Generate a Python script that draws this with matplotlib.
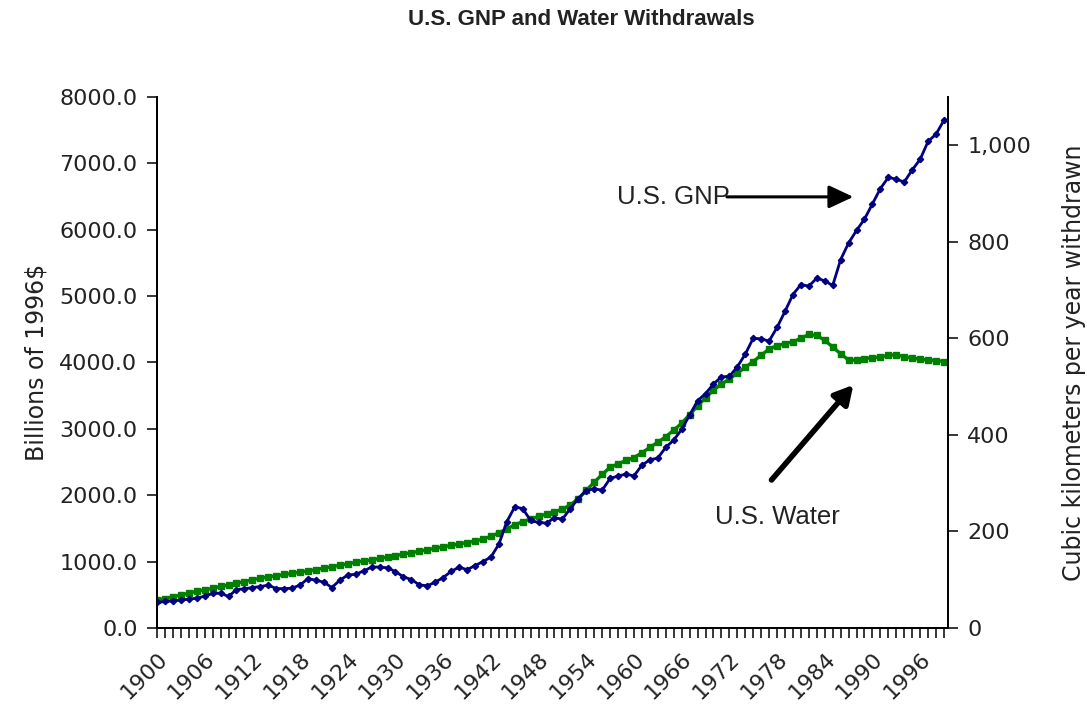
import numpy as np
import matplotlib
matplotlib.use("Agg")
import matplotlib.pyplot as plt
from matplotlib.ticker import FuncFormatter, MultipleLocator

# -----------------------------
# Data
# -----------------------------
years = list(range(1900, 2000))

# U.S. GNP, billions of 1996$
gnp = [385, 400, 410, 420, 435, 448, 480, 520, 525, 475,
       580, 590, 610, 625, 645, 595, 593, 600, 647, 745,
       720, 690, 610, 720, 798, 809, 860, 917, 920, 906,
       850, 771, 730, 650, 636, 690, 760, 852, 917, 879,
       940, 1000, 1068, 1260, 1600, 1823, 1800, 1620, 1590, 1580,
       1660, 1640, 1800, 1950, 2070, 2100, 2075, 2253, 2290, 2318,
       2291, 2453, 2533, 2560, 2722, 2830, 2991, 3207, 3423, 3531,
       3676, 3784, 3790, 3935, 4124, 4366, 4355, 4323, 4528, 4770,
       5024, 5174, 5150, 5271, 5230, 5160, 5550, 5800, 5990, 6160,
       6390, 6620, 6790, 6760, 6720, 6900, 7061, 7330, 7440, 7650]

# U.S. water withdrawals, cubic km per year
water = [58, 61, 65, 68, 72, 76, 79, 82, 86, 89,
         93, 96, 100, 103, 106, 108, 111, 113, 116, 118,
         121, 124, 127, 130, 133, 136, 139, 141, 144, 147,
         150, 153, 156, 159, 162, 165, 168, 171, 174, 177,
         180, 184, 190, 197, 205, 214, 220, 226, 231, 236,
         241, 246, 255, 268, 285, 302, 318, 333, 340, 347,
         353, 363, 374, 385, 396, 410, 424, 442, 460, 477,
         493, 505, 516, 528, 540, 552, 565, 578, 585, 589,
         593, 600, 608, 606, 596, 582, 568, 555, 555, 558,
         560, 561, 565, 566, 562, 559, 557, 555, 554, 552]

year_labels = list(range(1900, 1997, 6))
gnp_ticks = list(range(0, 8001, 1000))
water_ticks = list(range(0, 1001, 200))

# -----------------------------
# Plot
# -----------------------------
plt.rcParams['font.family'] = ['DejaVu Sans']
text_color = "#222222"
arial = ["Liberation Sans", "DejaVu Sans"]

fig = plt.figure(figsize=(10.87, 7.13), dpi=100)
ax = fig.add_axes([0.1444, 0.1192, 0.7277, 0.7448])
ax2 = ax.twinx()

ax.plot(years, gnp, color="#000080", linewidth=2, marker="D", markersize=3.2,
        zorder=3)
ax2.plot(years, water, color="#008000", linewidth=2.4, marker="s", markersize=5,
         zorder=2)
ax.set_zorder(ax2.get_zorder() + 1)
ax.patch.set_visible(False)

ax.set_xlim(1900, 1999.5)
ax.set_ylim(0, 8000)
ax2.set_ylim(0, 1100)

ax.set_yticks(gnp_ticks)
ax.yaxis.set_major_formatter(FuncFormatter(lambda v, p: f"{v:.1f}"))
ax2.set_yticks(water_ticks)
ax2.yaxis.set_major_formatter(FuncFormatter(lambda v, p: f"{int(v):,}"))

ax.set_xticks(year_labels)
ax.set_xticklabels([str(y) for y in year_labels], rotation=45, ha="right",
                   rotation_mode="anchor")
ax.xaxis.set_minor_locator(MultipleLocator(1))

for a in (ax, ax2):
    a.spines["top"].set_visible(False)
    for s in a.spines.values():
        s.set_linewidth(1.3)
        s.set_color("black")
ax.tick_params(axis="x", which="both", direction="out", length=7, width=1.1,
               labelsize=16, labelcolor=text_color, pad=8)
ax.tick_params(axis="y", direction="out", length=7, width=1.1,
               labelsize=16, labelcolor=text_color, pad=7)
ax2.tick_params(axis="y", direction="out", length=7, width=1.1,
                labelsize=16, labelcolor=text_color, pad=7)

ax.set_ylabel("Billions of 1996$", fontsize=17, color=text_color, labelpad=8)
ax2.set_ylabel("Cubic kilometers per year withdrawn", fontsize=17,
               color=text_color, labelpad=22)

fig.text(0.535, 0.972, "U.S. GNP and Water Withdrawals", ha="center",
         va="center", fontsize=16, fontweight="bold", family=arial,
         color=text_color)

# annotations
ax.text(1957.9, 6495, "U.S. GNP", fontsize=18.5, color=text_color,
        family=arial, ha="left", va="center")
ax.annotate("", xy=(1987.6, 6495), xytext=(1971.7, 6495),
            arrowprops=dict(arrowstyle="-|>,head_length=1.5,head_width=0.7",
                            color="black", lw=2.2, shrinkA=0, shrinkB=0))
ax.text(1970.2, 1673, "U.S. Water", fontsize=18.5, color=text_color,
        family=arial, ha="left", va="center")
ax.annotate("", xy=(1987.6, 3662), xytext=(1977.3, 2230),
            arrowprops=dict(arrowstyle="-|>,head_length=1.1,head_width=0.6",
                            color="black", lw=4, shrinkA=0, shrinkB=0))

fig.savefig("out.png", dpi=100)
